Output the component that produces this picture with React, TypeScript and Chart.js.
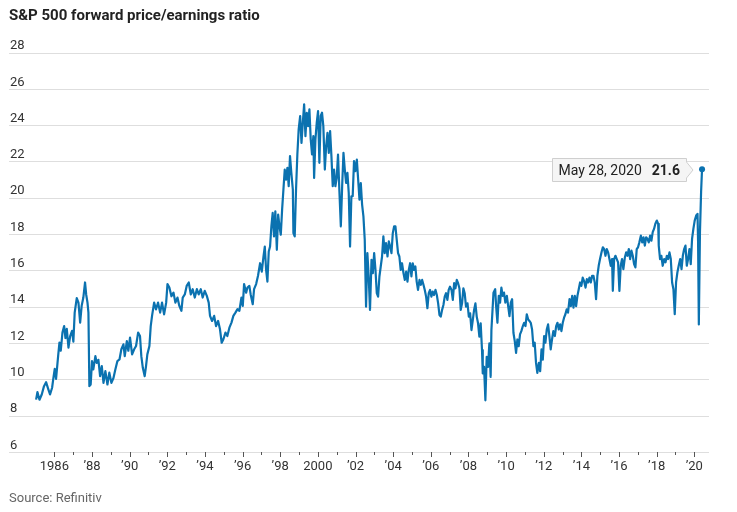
import React, { useEffect, useRef } from "react";
import { Chart, registerables } from "chart.js";

Chart.register(...registerables);

const titleText = "S&P 500 forward price/earnings ratio";
const sourceText = "Source: Refinitiv";
const lastDateLabel = "May 28, 2020";
const lastValueLabel = "21.6";

// decimal years (weekly-ish readings)
const years: number[] = [
  1985.03, 1985.1, 1985.21, 1985.33, 1985.45, 1985.56, 1985.68, 1985.77, 1985.88, 1985.95,
  1986.02, 1986.09, 1986.2, 1986.27, 1986.34, 1986.43, 1986.52, 1986.59, 1986.66, 1986.75,
  1986.84, 1986.94, 1987.01, 1987.08, 1987.19, 1987.28, 1987.37, 1987.45, 1987.54, 1987.63,
  1987.69, 1987.76, 1987.81, 1987.86, 1987.93, 1988.0, 1988.07, 1988.18, 1988.25, 1988.34,
  1988.43, 1988.52, 1988.61, 1988.71, 1988.82, 1988.92, 1989.03, 1989.14, 1989.24, 1989.35,
  1989.46, 1989.56, 1989.67, 1989.74, 1989.85, 1989.93, 1990.02, 1990.13, 1990.24, 1990.34,
  1990.45, 1990.55, 1990.62, 1990.7, 1990.8, 1990.87, 1990.94, 1991.05, 1991.12, 1991.19,
  1991.3, 1991.4, 1991.51, 1991.62, 1991.72, 1991.83, 1991.94, 1992.01, 1992.11, 1992.22,
  1992.33, 1992.43, 1992.54, 1992.64, 1992.75, 1992.82, 1992.93, 1993.03, 1993.14, 1993.25,
  1993.35, 1993.46, 1993.57, 1993.67, 1993.78, 1993.88, 1993.99, 1994.1, 1994.2, 1994.27,
  1994.38, 1994.49, 1994.59, 1994.7, 1994.8, 1994.89, 1994.98, 1995.09, 1995.19, 1995.3,
  1995.41, 1995.51, 1995.62, 1995.73, 1995.83, 1995.94, 1996.01, 1996.08, 1996.19, 1996.26,
  1996.36, 1996.43, 1996.54, 1996.61, 1996.72, 1996.82,
  1996.93, 1997.02, 1997.11, 1997.18, 1997.25, 1997.32, 1997.39, 1997.46, 1997.53, 1997.6,
  1997.67, 1997.74, 1997.82, 1997.89, 1997.96, 1998.03, 1998.1, 1998.17, 1998.24, 1998.31,
  1998.38, 1998.45, 1998.52, 1998.59, 1998.67, 1998.7, 1998.77, 1998.84, 1998.91, 1998.98,
  1999.06, 1999.13, 1999.2, 1999.27, 1999.34, 1999.41, 1999.48, 1999.55, 1999.62, 1999.69,
  1999.76, 1999.8, 1999.87, 1999.94, 2000.01, 2000.08, 2000.15, 2000.22, 2000.29, 2000.37,
  2000.44, 2000.51, 2000.58, 2000.65, 2000.72, 2000.79, 2000.86, 2000.93, 2001.0, 2001.07,
  2001.14, 2001.22, 2001.29, 2001.36, 2001.43, 2001.5, 2001.57, 2001.64, 2001.71, 2001.78,
  2001.85, 2001.92, 2001.99, 2002.07, 2002.14, 2002.21, 2002.28, 2002.35, 2002.42, 2002.49,
  2002.56, 2002.63, 2002.7, 2002.77, 2002.85, 2002.92, 2002.99, 2003.06, 2003.13, 2003.2,
  2003.27, 2003.34, 2003.41, 2003.48, 2003.55, 2003.62, 2003.7, 2003.77, 2003.84, 2003.91,
  2003.98, 2004.05, 2004.12, 2004.19, 2004.26, 2004.33, 2004.4, 2004.47, 2004.55, 2004.62,
  2004.69, 2004.76, 2004.83, 2004.9, 2004.97, 2005.04, 2005.11, 2005.18, 2005.25, 2005.32,
  2005.4, 2005.47, 2005.54, 2005.61, 2005.68, 2005.75, 2005.82, 2005.89, 2005.96, 2006.03,
  2006.1, 2006.17, 2006.25, 2006.32, 2006.39, 2006.46, 2006.53, 2006.6, 2006.67, 2006.74,
  2006.81, 2006.88, 2006.95, 2007.02, 2007.1, 2007.17, 2007.24, 2007.31, 2007.38, 2007.45,
  2007.52, 2007.59, 2007.66, 2007.73, 2007.8, 2007.87, 2007.95, 2008.02, 2008.09, 2008.16,
  2008.23, 2008.3, 2008.37, 2008.44, 2008.51, 2008.58, 2008.65, 2008.72, 2008.76, 2008.83,
  2008.9, 2008.97, 2009.04, 2009.11, 2009.18, 2009.22,
  2009.33, 2009.42, 2009.47, 2009.54, 2009.61, 2009.68, 2009.75, 2009.82, 2009.89, 2009.96,
  2010.04, 2010.11, 2010.18, 2010.25, 2010.32, 2010.39, 2010.46, 2010.53, 2010.6, 2010.67,
  2010.74, 2010.81, 2010.89, 2010.96, 2011.03, 2011.1, 2011.17, 2011.24, 2011.31, 2011.38,
  2011.45, 2011.52, 2011.59, 2011.66, 2011.74, 2011.81, 2011.88, 2011.95, 2012.02, 2012.09,
  2012.16, 2012.23, 2012.3, 2012.37, 2012.44, 2012.51, 2012.59, 2012.66, 2012.73, 2012.8,
  2012.87, 2012.94, 2013.01, 2013.08, 2013.15, 2013.22, 2013.29, 2013.37, 2013.44, 2013.51,
  2013.58, 2013.65, 2013.72, 2013.79, 2013.86, 2013.93, 2014.0, 2014.07, 2014.14, 2014.22,
  2014.29, 2014.36, 2014.43, 2014.5, 2014.57, 2014.64, 2014.71, 2014.78, 2014.85, 2014.92,
  2014.99, 2015.07, 2015.14, 2015.21, 2015.28, 2015.35, 2015.42, 2015.49, 2015.56, 2015.63,
  2015.67, 2015.74, 2015.81, 2015.88, 2015.95, 2016.02, 2016.09, 2016.16, 2016.23, 2016.31,
  2016.38, 2016.45, 2016.52, 2016.59, 2016.66, 2016.73, 2016.8, 2016.87, 2016.94, 2017.01,
  2017.08, 2017.16, 2017.23, 2017.3, 2017.37, 2017.44, 2017.51, 2017.58, 2017.65, 2017.72,
  2017.79, 2017.86, 2017.93, 2018.01, 2018.08, 2018.11, 2018.18, 2018.25, 2018.32, 2018.4,
  2018.47, 2018.54, 2018.61, 2018.68, 2018.75, 2018.82, 2018.89, 2018.96, 2019.03, 2019.1,
  2019.17, 2019.25, 2019.32, 2019.39, 2019.46, 2019.53, 2019.6, 2019.67, 2019.74, 2019.81,
  2019.88, 2019.95, 2020.02, 2020.1, 2020.17, 2020.2, 2020.24, 2020.3, 2020.36, 2020.41,
];

const peRatio: number[] = [
  8.91, 9.32, 8.9, 9.19, 9.65, 9.87, 9.47, 9.19, 9.56, 10.1,
  10.6, 10.05, 11.3, 12.05, 11.6, 12.6, 12.96, 12.3, 12.8, 11.77,
  12.4, 12.7, 12.1, 13.7, 14.5, 14.25, 13.15, 14.07, 14.53, 15.36,
  14.7, 14.25, 13.7, 9.65, 9.74, 11.03, 10.57, 11.3, 10.93, 11.1,
  10.2, 10.75, 9.83, 10.48, 9.74, 10.39, 9.83, 10.1, 10.57, 11.03,
  11.12, 11.68, 11.95, 11.3, 12.13, 11.6, 12.32, 11.4, 11.68, 11.86,
  12.6, 12.41, 11.3, 10.66, 10.2, 10.75, 11.4, 11.86, 12.96, 13.52,
  14.25, 13.88, 14.25, 13.7, 14.25, 13.6, 14.25, 15.27, 15.08, 14.6,
  14.8, 14.25, 14.53, 14.07, 13.8, 14.53, 14.7, 15.17, 15.36, 14.7,
  14.99, 14.53, 14.99, 14.7, 14.99, 14.53, 14.9, 14.62, 14.25, 13.52,
  13.24, 13.52, 12.96, 13.24, 12.78, 12.04, 12.23, 12.6, 12.41, 12.87,
  13.15, 13.52, 13.7, 13.89, 13.8, 14.53, 14.07, 15.27, 14.8, 15.08,
  15.17, 14.7, 14.16, 14.99, 15.27, 15.73,
  16.42, 15.96, 16.79, 17.34, 16.05, 15.41, 17.07, 17.34, 18.45, 19.19,
  17.9, 19.28, 17.16, 19.1, 18.45, 17.99, 19.37, 20.48, 21.58, 21.03,
  21.67, 20.66, 22.32, 21.4, 20.48, 18.08, 17.9, 20.48, 22.41, 23.79,
  24.53, 23.05, 24.16, 25.17, 23.42, 24.71, 23.97, 24.9, 23.24, 22.41,
  23.42, 21.12, 23.24, 24.16, 24.8, 21.95, 24.53, 24.71, 23.97, 21.58,
  22.87, 23.6, 22.5, 23.7, 22.32, 20.66, 21.58, 20.66, 21.12, 22.41,
  20.48, 18.45, 20.66, 22.5, 21.58, 20.84, 21.4, 20.29, 17.34, 20.11,
  20.11, 22.04, 21.49, 22.13, 21.03, 19.92, 20.84, 19.65, 19.0, 17.71,
  14.03, 16.98, 15.69, 13.85, 16.61, 15.87, 16.98, 16.05, 14.77, 14.58,
  15.69, 16.24, 16.79, 17.9, 16.98, 17.53, 16.79, 17.62, 17.34, 16.98,
  18.08, 18.45, 18.45, 17.71, 16.98, 16.79, 16.05, 16.42, 15.87, 15.5,
  15.96, 15.41, 16.05, 16.42, 15.69, 16.42, 16.05, 16.24, 15.41, 14.95,
  15.5, 15.23, 15.5, 15.23, 14.95, 14.58, 13.94, 14.77, 14.95, 14.58,
  14.86, 14.67, 14.95, 14.67, 14.21, 13.57, 13.48, 13.85, 14.12, 14.58,
  14.77, 14.4, 14.95, 15.13, 14.95, 14.4, 15.32, 15.04, 15.5, 15.32,
  15.04, 13.85, 14.21, 15.04, 14.77, 14.03, 14.21, 13.48, 13.66, 12.74,
  13.29, 13.85, 14.21, 13.48, 13.11, 12.37, 13.11, 11.64, 10.35, 10.71,
  8.87, 11.27, 10.71, 12.0, 10.16, 12.74,
  14.8, 14.99, 14.06, 13.14, 14.62, 14.25, 15.08, 14.62, 14.8, 14.25,
  14.62, 14.06, 13.51, 14.25, 14.44, 12.59, 12.13, 11.48, 12.22, 11.85,
  12.5, 12.68, 12.96, 13.14, 12.96, 13.61, 13.33, 13.24, 13.14, 12.77,
  11.85, 12.04, 10.93, 10.38, 10.93, 10.47, 11.67, 11.11, 12.41, 12.04,
  12.77, 13.05, 12.41, 11.67, 12.22, 12.68, 12.41, 12.96, 13.14, 12.77,
  13.05, 12.68, 13.14, 13.42, 13.61, 13.88, 13.7, 14.44, 14.06, 14.62,
  13.97, 14.62, 14.06, 14.62, 14.99, 15.36, 15.17, 15.63, 15.45, 15.08,
  15.54, 15.36, 15.63, 15.36, 15.73, 15.73, 15.36, 14.44, 15.73, 16.28,
  16.65, 17.02, 17.3, 17.2, 16.83, 17.2, 17.02, 16.65, 16.28, 16.65,
  14.9, 16.65, 16.83, 16.65, 16.47, 14.9, 16.28, 16.65, 16.1, 16.74,
  17.02, 16.83, 17.2, 16.65, 17.11, 16.83, 16.37, 16.19, 17.2, 17.3,
  17.57, 17.94, 17.57, 17.85, 17.39, 17.85, 17.76, 17.57, 17.94, 17.66,
  18.13, 18.31, 18.59, 18.77, 18.59, 17.39, 16.65, 16.83, 16.28, 16.65,
  16.47, 16.83, 16.65, 17.02, 16.65, 15.36, 14.99, 13.61, 15.36, 15.91,
  16.28, 16.65, 16.1, 16.83, 17.2, 17.39, 16.28, 16.65, 17.2, 16.37,
  17.76, 18.31, 18.77, 19.05, 19.14, 17.57, 13.05, 18.13, 20.34, 21.6,
];

const xTickYears = [1986, 1988, 1990, 1992, 1994, 1996, 1998, 2000, 2002, 2004, 2006, 2008, 2010, 2012, 2014, 2016, 2018, 2020];
const xTickLabels = ["1986", "’88", "’90", "’92", "’94", "’96", "’98", "2000", "’02", "’04", "’06", "’08", "’10", "’12", "’14", "’16", "’18", "’20"];
const minorTickYears = [1987, 1989, 1991, 1993, 1995, 1997, 1999, 2001, 2003, 2005, 2007, 2009, 2011, 2013, 2015, 2017, 2019];
const yTicks = [6, 8, 10, 12, 14, 16, 18, 20, 22, 24, 26, 28];

const BLUE = "#0b72b0";
const FONT = "'Liberation Sans Narrow', Roboto, sans-serif";

const tickMarksPlugin = {
  id: "tickMarks",
  afterDraw(chart: any) {
    const { ctx, chartArea } = chart;
    const xs = chart.scales.x;
    const y0 = Math.round(chartArea.bottom);
    ctx.save();
    ctx.strokeStyle = "#555";
    ctx.lineWidth = 1;
    ctx.beginPath();
    xTickYears.forEach((v) => {
      const px = Math.round(xs.getPixelForValue(v)) + 0.5;
      ctx.moveTo(px, y0);
      ctx.lineTo(px, y0 + 5);
    });
    minorTickYears.forEach((v) => {
      const px = Math.round(xs.getPixelForValue(v)) + 0.5;
      ctx.moveTo(px, y0);
      ctx.lineTo(px, y0 + 3);
    });
    ctx.stroke();
    ctx.restore();
  },
};

const calloutPlugin = {
  id: "callout",
  afterDatasetsDraw(chart: any) {
    const { ctx } = chart;
    const meta = chart.getDatasetMeta(0);
    const pt = meta.data[meta.data.length - 1];
    if (!pt) return;
    const px = pt.x;
    const py = pt.y;
    ctx.save();
    ctx.font = "14px Roboto";
    const w1 = ctx.measureText(lastDateLabel).width;
    ctx.font = "bold 14px Roboto";
    const w2 = ctx.measureText(lastValueLabel).width;
    const padL = 6;
    const padR = 7;
    const gap = 10;
    const right = Math.round(px - 16) + 0.5;
    const tip = right + 6.5;
    const width = padL + w1 + gap + w2 + padR;
    const left = Math.round(right - width) + 0.5;
    const top = Math.round(py - 11) + 0.5;
    const bottom = top + 23;
    const mid = (top + bottom) / 2;
    ctx.beginPath();
    ctx.moveTo(left, top);
    ctx.lineTo(right, top);
    ctx.lineTo(right, mid - 8);
    ctx.lineTo(tip, mid);
    ctx.lineTo(right, mid + 8);
    ctx.lineTo(right, bottom);
    ctx.lineTo(left, bottom);
    ctx.closePath();
    ctx.fillStyle = "#f5f5f5";
    ctx.fill();
    ctx.strokeStyle = "#cfcfcf";
    ctx.lineWidth = 1;
    ctx.stroke();
    ctx.fillStyle = "#222";
    ctx.textBaseline = "alphabetic";
    ctx.textAlign = "left";
    const base = mid + 5;
    ctx.font = "14px Roboto";
    ctx.fillText(lastDateLabel, left + padL, base);
    ctx.font = "bold 14px Roboto";
    ctx.fillText(lastValueLabel, left + padL + w1 + gap, base);
    ctx.restore();
  },
};

export default function App() {
  const canvasRef = useRef<HTMLCanvasElement | null>(null);

  useEffect(() => {
    const canvas = canvasRef.current;
    if (!canvas) return;
    const points = years.map((x, i) => ({ x, y: peRatio[i] }));
    const lastIndex = points.length - 1;
    const chart = new Chart(canvas, {
      type: "line",
      data: {
        datasets: [
          {
            data: points,
            borderColor: BLUE,
            backgroundColor: BLUE,
            borderWidth: 2.2,
            borderJoinStyle: "round",
            tension: 0,
            fill: false,
            pointRadius: (c: any) => (c.dataIndex === lastIndex ? 3 : 0),
            pointBorderWidth: 0,
            pointBackgroundColor: BLUE,
            pointHoverRadius: 0,
          },
        ],
      },
      options: {
        responsive: false,
        animation: false,
        events: [],
        layout: { padding: { left: 7, right: 28, top: 53, bottom: 30 } },
        plugins: {
          legend: { display: false },
          tooltip: { enabled: false },
        },
        scales: {
          x: {
            type: "linear",
            min: 1983.59,
            max: 2020.78,
            grid: { display: false, drawTicks: false },
            border: { display: false },
            afterBuildTicks: (s: any) => {
              s.ticks = xTickYears.map((v) => ({ value: v }));
            },
            ticks: {
              autoSkip: false,
              maxRotation: 0,
              padding: 7,
              color: "#333",
              font: { family: FONT, size: 13 },
              callback: (v: any) => {
                const i = xTickYears.indexOf(Number(v));
                return i >= 0 ? xTickLabels[i] : "";
              },
            },
          },
          y: {
            min: 6,
            max: 28,
            afterBuildTicks: (s: any) => {
              s.ticks = yTicks.map((v) => ({ value: v }));
            },
            grid: { color: "#dedede", lineWidth: 1, drawTicks: false },
            border: { display: false },
            ticks: {
              mirror: true,
              padding: 1,
              labelOffset: -7,
              color: "#333",
              font: { family: FONT, size: 13 },
            },
          },
        },
      },
      plugins: [tickMarksPlugin, calloutPlugin],
    } as any);
    return () => chart.destroy();
  }, []);

  return (
    <div style={{ position: "absolute", left: 0, top: 0, width: 737, height: 512, background: "#fff" }}>
      <canvas ref={canvasRef} width={737} height={512} style={{ position: "absolute", left: 0, top: 0 }} />
      <div
        style={{
          position: "absolute",
          left: 9,
          top: 7,
          font: "bold 15px Roboto, sans-serif",
          lineHeight: "16px",
          color: "#222",
          whiteSpace: "nowrap",
        }}
      >
        {titleText}
      </div>
      <div
        style={{
          position: "absolute",
          left: 9,
          top: 490,
          font: "13px Roboto, sans-serif",
          lineHeight: "16px",
          color: "#666",
          whiteSpace: "nowrap",
        }}
      >
        {sourceText}
      </div>
    </div>
  );
}
